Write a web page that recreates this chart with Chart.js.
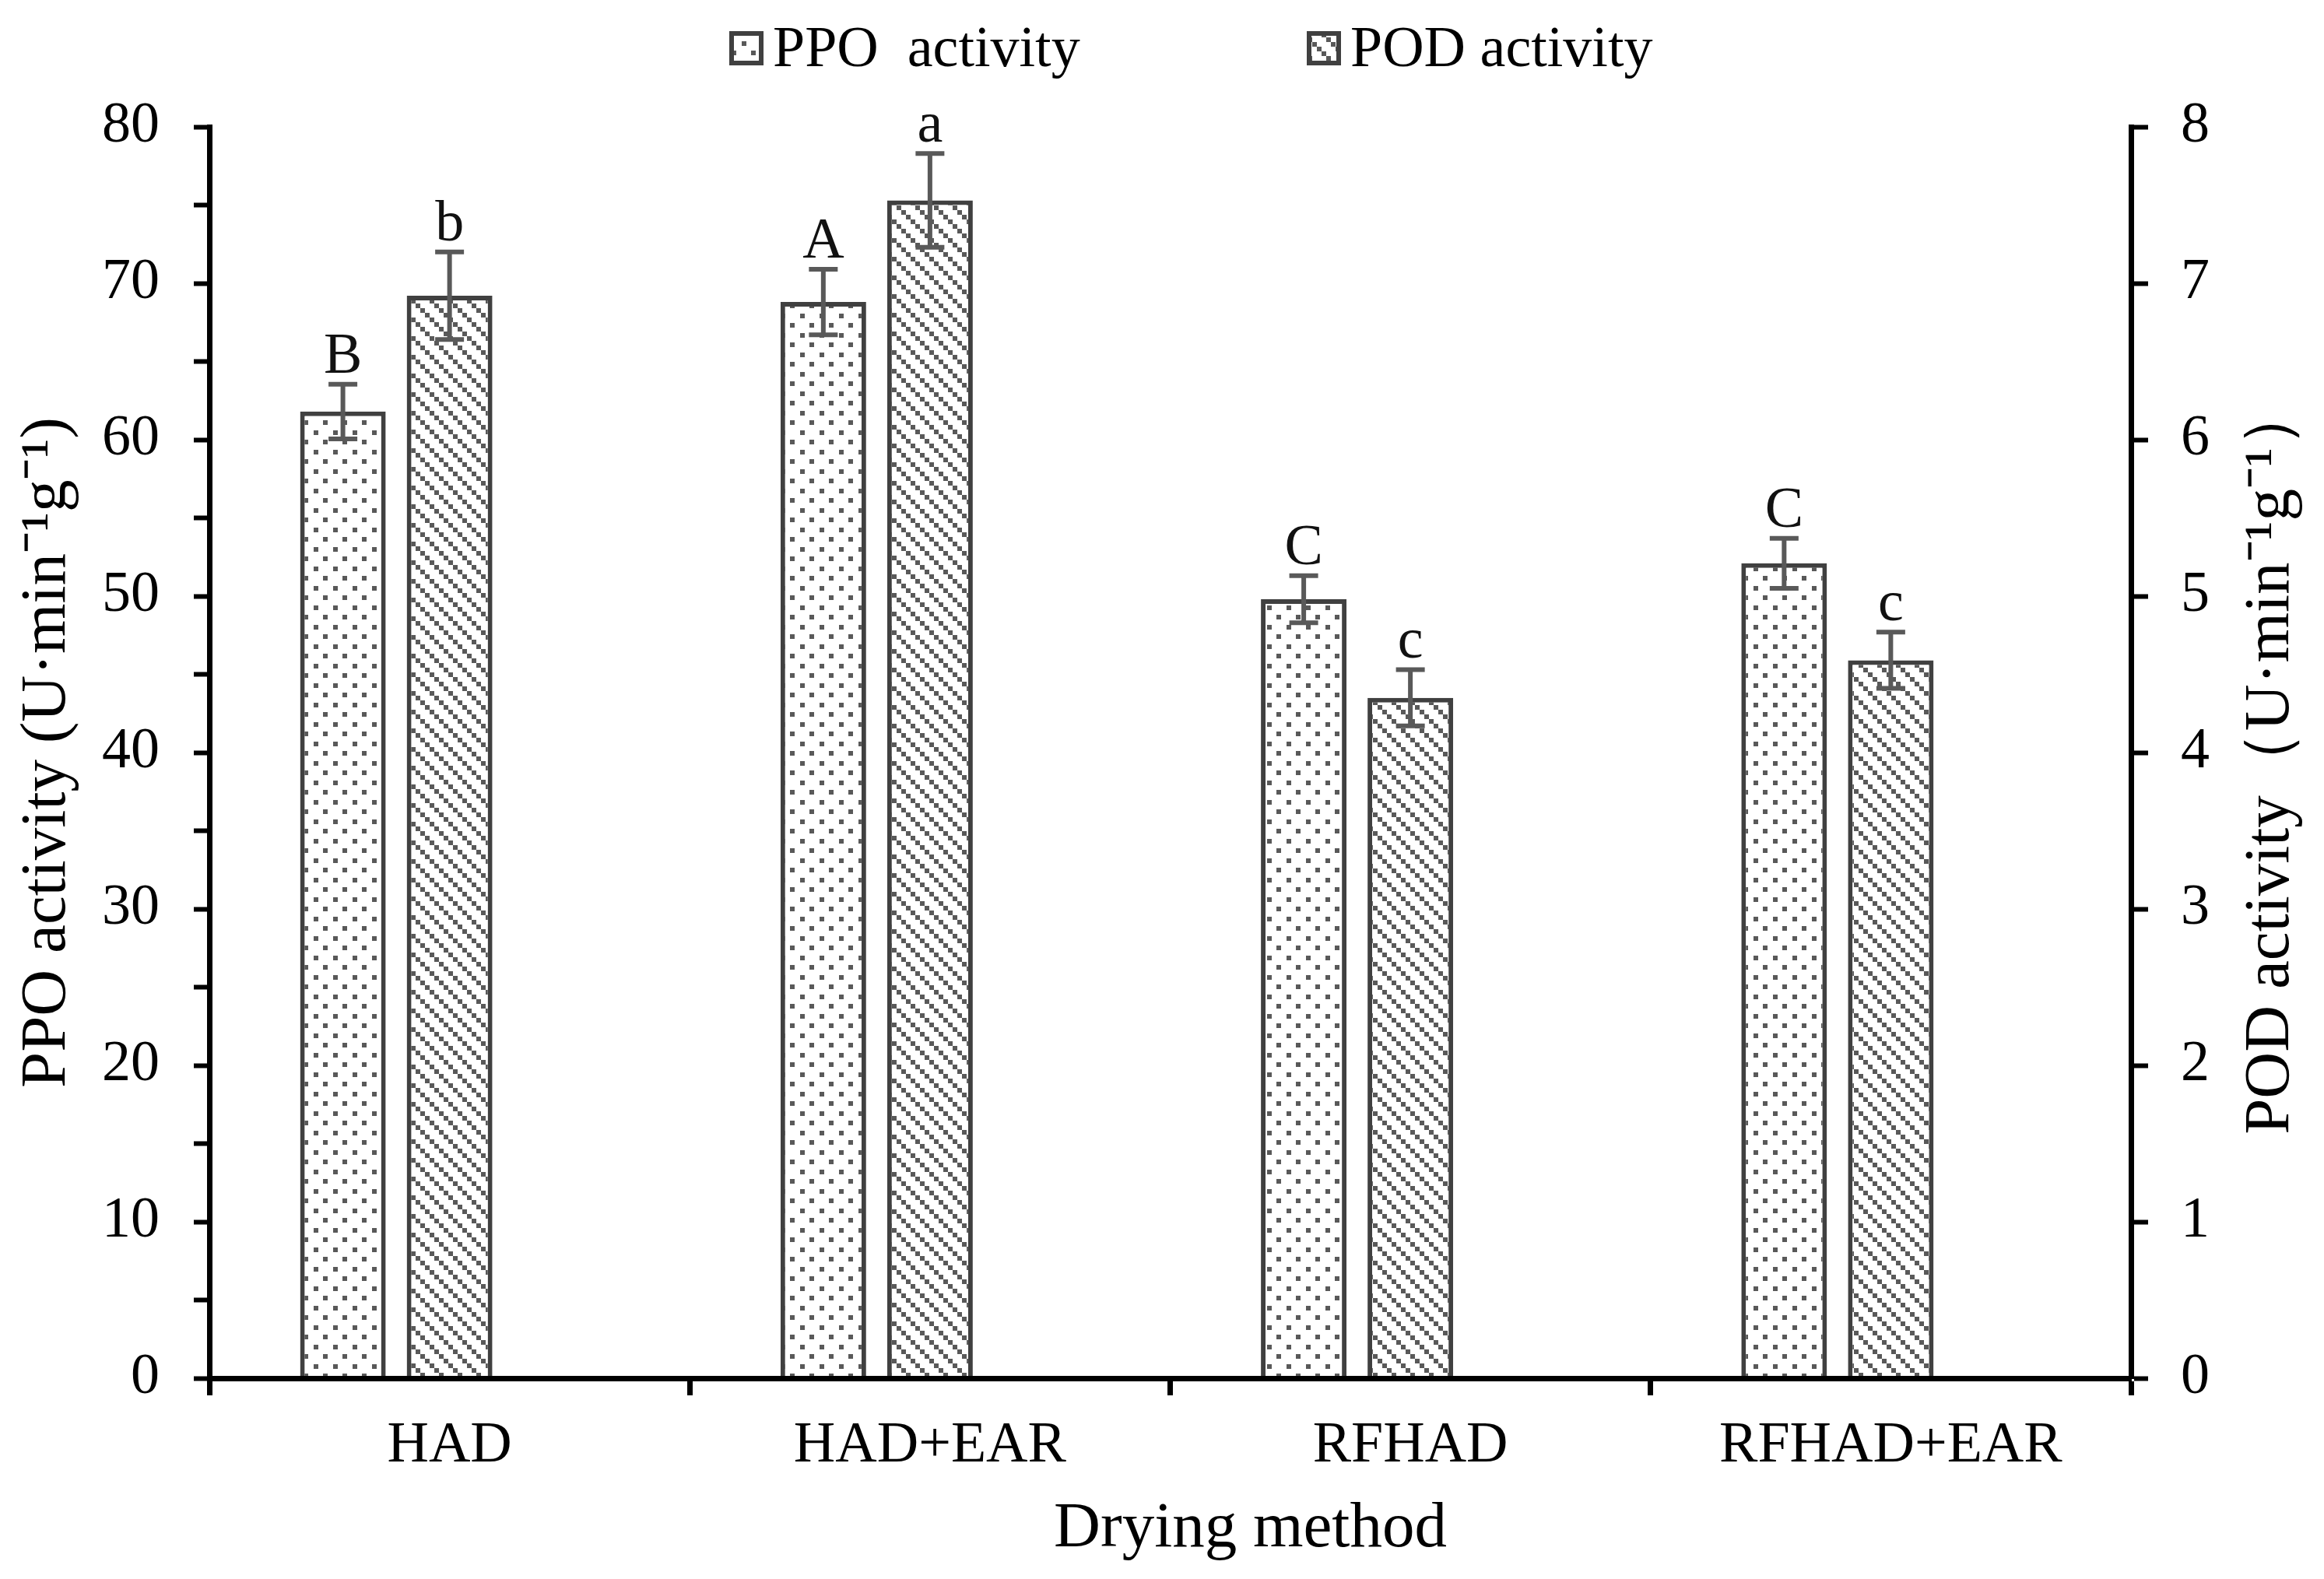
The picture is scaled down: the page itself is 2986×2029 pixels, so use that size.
<!DOCTYPE html>
<html>
<head>
<meta charset="utf-8">
<title>PPO and POD activity by drying method</title>
<script src="https://cdn.jsdelivr.net/npm/chart.js@4.4.1/dist/chart.umd.min.js"></script>
<style>
    html, body { margin: 0; padding: 0; background: #fff; }
    #wrap { position: relative; width: 2986px; height: 2029px; }
</style>
</head>
<body>
<div id="wrap"><canvas id="chart-enzymes"></canvas></div>
<script>
'use strict';

const methods = ['HAD', 'HAD+EAR', 'RFHAD', 'RFHAD+EAR'];

const ppoActivity = [61.8, 68.8, 49.8, 52.1];
const ppoError = [1.75, 2.1, 1.5, 1.6];
const ppoLetters = ['B', 'A', 'C', 'C'];

const podActivity = [6.92, 7.53, 4.35, 4.59];
const podError = [0.28, 0.30, 0.18, 0.18];
const podLetters = ['b', 'a', 'c', 'c'];

const ppoTicks = [0, 10, 20, 30, 40, 50, 60, 70, 80];
const podTicks = [0, 1, 2, 3, 4, 5, 6, 7, 8];

const legendLabels = ['PPO  activity', 'POD activity'];
const xTitle = 'Drying method';
const ppoTitle = 'PPO activity (U·min⁻¹g⁻¹)';
const podTitle = 'POD activity（U·min⁻¹g⁻¹）';

const FONT = "'Liberation Serif', 'Times New Roman', serif";
const canvas = document.getElementById('chart-enzymes');

/**
 * Small repeating fills, like the Excel pattern fills:
 * dotted for PPO, dashed downward diagonal for POD.
 */
function makePattern(size, paint) {
    const tile = document.createElement('canvas');
    tile.width = size;
    tile.height = size;
    const g = tile.getContext('2d');
    g.fillStyle = '#ffffff';
    g.fillRect(0, 0, size, size);
    g.fillStyle = '#595959';
    paint(g);
    return canvas.getContext('2d').createPattern(tile, 'repeat');
}

const dotFill = makePattern(25, g => {
    g.fillRect(3, 3, 6, 6);
    g.fillRect(15, 15, 6, 6);
});

const diagonalFill = makePattern(24, g => {
    for (let i = 0; i < 4; i++) {
        g.fillRect(i * 6, i * 6, 6, 6);
    }
});

/**
 * Error bars and significance letters, placed with the chart's own scales
 */
const errorBars = {
    id: 'errorBars',
    afterDatasetsDraw(chart) {
        const ctx = chart.ctx;
        const series = [
            [0, ppoActivity, ppoError, ppoLetters],
            [1, podActivity, podError, podLetters]
        ];
        ctx.save();
        series.forEach(([idx, values, errors, letters]) => {
            const meta = chart.getDatasetMeta(idx);
            const scale = chart.scales[meta.yAxisID];
            meta.data.forEach((bar, i) => {
                const top = scale.getPixelForValue(values[i] + errors[i]);
                const bottom = scale.getPixelForValue(values[i] - errors[i]);
                ctx.strokeStyle = '#595959';
                ctx.lineWidth = 6;
                ctx.beginPath();
                ctx.moveTo(bar.x, top);
                ctx.lineTo(bar.x, bottom);
                ctx.moveTo(bar.x - 18.5, top);
                ctx.lineTo(bar.x + 18.5, top);
                ctx.moveTo(bar.x - 18.5, bottom);
                ctx.lineTo(bar.x + 18.5, bottom);
                ctx.stroke();

                ctx.fillStyle = '#111';
                ctx.font = `74px ${FONT}`;
                ctx.textAlign = 'center';
                ctx.textBaseline = 'alphabetic';
                ctx.fillText(letters[i], bar.x, top - 15);
            });
        });
        ctx.restore();
    }
};

/**
 * Legend on one line above the plot, boxes filled with the bar patterns.
 * Also the x title (sits right of the plot centre in the original) and
 * the right axis title, which reads bottom to top like the left one.
 */
const extraText = {
    id: 'extraText',
    afterDraw(chart) {
        const ctx = chart.ctx;
        const area = chart.chartArea;
        const items = [
            {x: 937, fill: dotFill, text: legendLabels[0]},
            {x: 1679, fill: diagonalFill, text: legendLabels[1]}
        ];
        ctx.save();
        items.forEach(item => {
            ctx.fillStyle = item.fill;
            ctx.fillRect(item.x, 40, 44, 44);
            ctx.strokeStyle = '#404040';
            ctx.lineWidth = 6;
            ctx.strokeRect(item.x + 3, 43, 38, 38);
            ctx.fillStyle = '#000';
            ctx.font = `74px ${FONT}`;
            ctx.textAlign = 'left';
            ctx.textBaseline = 'alphabetic';
            ctx.fillText(item.text, item.x + 56, 85);
        });

        ctx.fillStyle = '#000';
        ctx.font = `83px ${FONT}`;
        ctx.textAlign = 'center';
        ctx.textBaseline = 'middle';
        ctx.fillText(xTitle, (area.left + area.right) / 2 + 103, area.bottom + 194);

        ctx.translate(area.right + 180, (area.top + area.bottom) / 2 + 8);
        ctx.rotate(-Math.PI / 2);
        ctx.fillText(podTitle, 0, 0);
        ctx.restore();
    }
};

function axisBorder() {
    return {display: true, color: '#000', width: 7, z: 1};
}

(function initChart() {
    const ppoStep = ppoTicks[1] - ppoTicks[0];
    const podStep = podTicks[1] - podTicks[0];

    const data = {
        labels: methods,
        datasets: [{
            label: legendLabels[0],
            data: ppoActivity,
            yAxisID: 'y',
            backgroundColor: dotFill,
            borderColor: '#404040',
            borderWidth: 6
        }, {
            label: legendLabels[1],
            data: podActivity,
            yAxisID: 'y1',
            backgroundColor: diagonalFill,
            borderColor: '#404040',
            borderWidth: 6
        }, {
            // empty third slot, so each pair sits left of the category centre
            label: '',
            data: methods.map(() => null),
            yAxisID: 'y',
            backgroundColor: 'rgba(0,0,0,0)'
        }]
    };

    new Chart(canvas.getContext('2d'), {
        type: 'bar',
        data: data,
        plugins: [errorBars, extraText],
        options: {
            responsive: true,
            maintainAspectRatio: false,
            devicePixelRatio: 1,
            animation: false,
            categoryPercentage: 0.666,
            barPercentage: 0.803,
            layout: {padding: {top: 163, left: 0, right: 0, bottom: 0}},
            plugins: {
                legend: {display: false},
                tooltip: {enabled: false}
            },
            scales: {
                x: {
                    z: 1,
                    offset: true,
                    grid: {
                        offset: true,
                        drawOnChartArea: false,
                        tickLength: 22,
                        tickWidth: 7,
                        tickColor: '#000'
                    },
                    border: axisBorder(),
                    ticks: {
                        color: '#000',
                        font: {family: FONT, size: 74},
                        padding: 21,
                        maxRotation: 0,
                        autoSkip: false
                    },
                    title: {display: false},
                    afterFit(scale) { scale.height = 258; }
                },
                y: {
                    z: 1,
                    position: 'left',
                    min: ppoTicks[0],
                    max: ppoTicks[ppoTicks.length - 1],
                    grid: {
                        drawOnChartArea: false,
                        tickLength: 20,
                        tickWidth: 6,
                        tickColor: '#000'
                    },
                    border: axisBorder(),
                    ticks: {
                        stepSize: ppoStep / 2,
                        color: '#000',
                        font: {family: FONT, size: 74},
                        padding: 44,
                        callback: v => (ppoTicks.includes(v) ? v : '')
                    },
                    title: {
                        display: true,
                        text: ppoTitle,
                        color: '#000',
                        font: {family: FONT, size: 83},
                        padding: {top: 11, bottom: 0}
                    },
                    afterFit(scale) { scale.width = 269; }
                },
                y1: {
                    z: 1,
                    position: 'right',
                    min: podTicks[0],
                    max: podTicks[podTicks.length - 1],
                    grid: {
                        drawOnChartArea: false,
                        tickLength: 22,
                        tickWidth: 6,
                        tickColor: '#000'
                    },
                    border: axisBorder(),
                    ticks: {
                        stepSize: podStep,
                        color: '#000',
                        font: {family: FONT, size: 74},
                        padding: 42
                    },
                    title: {display: false},
                    afterFit(scale) { scale.width = 248; }
                }
            }
        }
    });
})();
</script>
</body>
</html>
